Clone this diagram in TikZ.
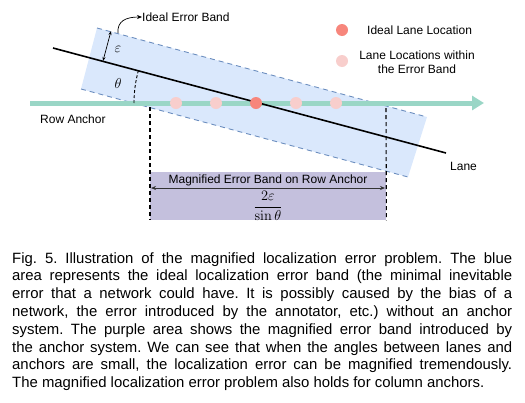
\documentclass[tikz,border=0pt]{standalone}
\usepackage[no-math]{fontspec}
\setmainfont{Liberation Sans}
\usetikzlibrary{arrows.meta}
\definecolor{bandfill}{HTML}{DAE8FC}
\definecolor{bandline}{HTML}{6C8EBF}
\definecolor{anchorcol}{HTML}{9AD6C6}
\definecolor{ideal}{HTML}{F7867C}
\definecolor{within}{HTML}{F8CECC}
\definecolor{purplebox}{HTML}{C4C0DD}
\tikzset{
  lbl/.style={inner sep=0pt, font=\fontsize{12}{14}\selectfont},
  mathlbl/.style={inner sep=0pt, font=\fontsize{15}{17}\selectfont},
  dot/.style={circle, inner sep=0pt, minimum size=12pt},
  bandedge/.style={bandline, dashed, dash pattern=on 5pt off 4pt, line width=0.9pt},
  guide/.style={black, dashed, dash pattern=on 4pt off 3pt, line width=1.1pt},
}
\frenchspacing
\begin{document}
\begin{tikzpicture}[x=1pt,y=-1pt]
\useasboundingbox (0,0) rectangle (525,402);
% error band
\coordinate (TL) at (97,28);
\coordinate (TR) at (427,117);
\coordinate (BR) at (408,177);
\coordinate (BL) at (81,89);
\fill[bandfill] (TL) -- (TR) -- (BR) -- (BL) -- cycle;
\draw[bandedge] (TL) -- (TR);
\draw[bandedge] (BL) -- (BR);
% purple box
\node[fill=purplebox, minimum width=236pt, minimum height=48pt, inner sep=0pt, anchor=north west] (mag) at (150,172) {};
% row anchor
\coordinate (AS) at (30,103);
\coordinate (AE) at (484,103);
\draw[anchorcol, line width=5pt, -{Triangle[length=12pt,width=14pt]}] (AS) -- (AE);
\node[lbl, anchor=west] (rowlbl) at (40,119) {Row Anchor};
% lane
\coordinate (LS) at (53,48);
\coordinate (LE) at (446,153);
\draw[black, line width=1.6pt] (LS) -- (LE);
\node[lbl, anchor=west] (lanelbl) at (450,166) {Lane};
% theta arc
\coordinate (X) at (256,103);
\draw[black, dashed, dash pattern=on 3pt off 2pt, line width=0.9pt] (X) ++(-122pt,0pt) arc[start angle=180, end angle=164, radius=122pt];
\node[mathlbl] (theta) at (118,83) {$\theta$};
% epsilon
\coordinate (ET) at (111,31);
\coordinate (EB) at (103,61);
\draw[{Stealth[length=4pt,width=3pt]}-{Stealth[length=4pt,width=3pt]}, line width=0.7pt] (ET) -- (EB);
\node[mathlbl] (eps) at (118,49) {$\varepsilon$};
\node[lbl, anchor=west] (bandlbl) at (142,17) {Ideal Error Band};
\draw[-{Stealth[length=5pt,width=4pt]}, line width=0.7pt] (118,33) .. controls (117,21) and (126,17) .. (bandlbl.west);
% dots
\node[dot, fill=within] (d1) at (176,103) {};
\node[dot, fill=within] (d2) at (216,103) {};
\node[dot, fill=ideal] (d3) at (256,103) {};
\node[dot, fill=within] (d4) at (296,103) {};
\node[dot, fill=within] (d5) at (336,103) {};
% legend
\node[dot, fill=ideal] (lg1) at (342,30) {};
\node[lbl, anchor=west] (lg1t) at (367,30) {Ideal Lane Location};
\node[dot, fill=within] (lg2) at (342,61) {};
\node[lbl, align=center, font=\fontsize{12}{14}\selectfont] (lg2t) at (417,62) {Lane Locations within\\the Error Band};
% guides
\coordinate (GL) at (150,107);
\coordinate (GR) at (386,108);
\draw[guide] (GL) -- (mag.south west);
\draw[guide] (GR) -- (mag.south east);
% magnified band
\node[lbl] (magt) at (268,180) {Magnified Error Band on Row Anchor};
\coordinate (ML) at (151,188);
\coordinate (MR) at (385,188);
\draw[{Stealth[length=5pt,width=4pt]}-{Stealth[length=5pt,width=4pt]}, line width=0.7pt, black!80] (ML) -- (MR);
\node[mathlbl] (frac) at (268,206) {$\displaystyle\frac{2\varepsilon}{\sin\theta}$};
% caption
\node[anchor=north west, inner sep=0pt, text width=500pt, align=justify, font=\fontsize{14.9}{17.8}\selectfont] (cap) at (12,252) {%
Fig. 5. Illustration of the magnified localization error problem. The blue\linebreak
area represents the ideal localization error band (the minimal inevitable\linebreak
error that a network could have. It is possibly caused by the bias of a\linebreak
network, the error introduced by the annotator, etc.) without an anchor\linebreak
system. The purple area shows the magnified error band introduced by\linebreak
the anchor system. We can see that when the angles between lanes and\linebreak
anchors are small, the localization error can be magnified tremendously.\linebreak
The magnified localization error problem also holds for column anchors.};
\end{tikzpicture}
\end{document}
